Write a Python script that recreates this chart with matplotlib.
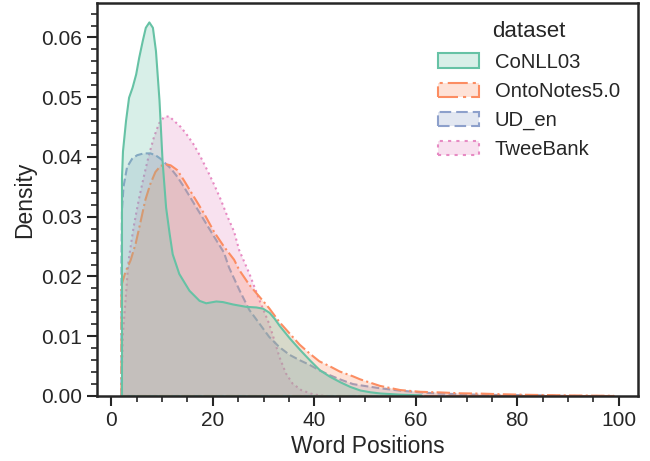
"""
KDE of word positions per dataset, redrawn from density values read off the figure.
"""
import matplotlib
matplotlib.use("Agg")
import matplotlib.pyplot as plt
from matplotlib.colors import to_rgba
from matplotlib.ticker import AutoMinorLocator


DATASETS = ["CoNLL03", "OntoNotes5.0", "UD_en", "TweeBank"]
COLORS = ["#66c2a5", "#fc8d62", "#8da0cb", "#e78ac3"]
LINESTYLES = ["-", "-.", "--", ":"]

conll_x = [2.0, 2.2, 2.8, 3.4, 4.1, 4.8, 5.4, 6.1, 6.7, 7.4, 8.1, 8.7, 9.4, 10.0,
           10.7, 11.4, 12.0, 13.3, 15.3, 17.3, 18.6, 20.6, 21.9, 23.9, 26.5, 28.5,
           29.8, 31.1, 32.1, 33.1, 35.1, 37.1, 39.1, 41.0, 43.0, 45.0, 47.0, 49.0,
           51.0, 53.0, 57.0, 61.0]
conll_y = [0.0365, 0.0410, 0.0461, 0.0500, 0.0517, 0.0539, 0.0567, 0.0595, 0.0617,
           0.0626, 0.0617, 0.0578, 0.0495, 0.0394, 0.0316, 0.0272, 0.0238, 0.0205,
           0.0177, 0.0160, 0.0156, 0.0159, 0.0158, 0.0154, 0.0150, 0.0149, 0.0147,
           0.0140, 0.0130, 0.0118, 0.0097, 0.0078, 0.0060, 0.0044, 0.0033, 0.0024,
           0.0016, 0.0010, 0.0007, 0.0005, 0.0003, 0.0002]

onto_x = [2.0, 2.8, 3.8, 4.8, 5.7, 6.7, 7.7, 8.7, 9.7, 10.7, 11.7, 13.0, 14.3, 16.3,
          18.3, 20.3, 22.2, 24.2, 25.2, 27.2, 29.2, 31.1, 33.1, 35.1, 37.1, 39.1,
          41.0, 43.0, 45.0, 47.6, 49.0, 52.9, 56.9, 60.9, 64.8, 68.8, 72.8, 76.7,
          82.0, 90.0, 99.0]
onto_y = [0.0185, 0.0208, 0.0227, 0.0255, 0.0289, 0.0328, 0.0355, 0.0375, 0.0385,
          0.0388, 0.0386, 0.0378, 0.0361, 0.0333, 0.0305, 0.0274, 0.0250, 0.0228,
          0.0211, 0.0186, 0.0166, 0.0147, 0.0124, 0.0105, 0.0086, 0.0071, 0.0058,
          0.0050, 0.0041, 0.0033, 0.0028, 0.0017, 0.0010, 0.0007, 0.0006, 0.00045,
          0.0004, 0.0003, 0.0002, 0.0001, 0.00003]

ud_x = [2.0, 2.1, 2.4, 3.1, 4.1, 5.1, 6.4, 7.7, 8.7, 9.7, 10.7, 11.7, 13.0, 14.3,
        16.3, 18.3, 20.3, 22.2, 23.2, 25.2, 27.2, 29.2, 31.1, 33.1, 35.1, 37.1,
        39.1, 41.0, 43.0, 45.0, 47.6, 49.0, 52.9, 56.9, 60.9, 64.8, 72.8, 85.0, 90.0]
ud_y = [0.0220, 0.0311, 0.0350, 0.0383, 0.0397, 0.0403, 0.0406, 0.0406, 0.0403,
        0.0397, 0.0389, 0.0381, 0.0367, 0.0350, 0.0322, 0.0294, 0.0266, 0.0240,
        0.0215, 0.0178, 0.0144, 0.0121, 0.0099, 0.0082, 0.0069, 0.0060, 0.0052,
        0.0043, 0.0035, 0.0028, 0.0020, 0.0018, 0.0013, 0.0009, 0.0006, 0.0004,
        0.0002, 0.0001, 0.0]

twee_x = [2.0, 2.3, 2.8, 3.4, 4.4, 5.4, 6.4, 7.4, 8.4, 9.4, 10.4, 11.4, 12.3, 13.7,
          15.0, 16.3, 17.6, 18.9, 20.3, 21.6, 22.9, 24.2, 25.2, 27.2, 29.2, 31.1,
          32.1, 33.1, 34.4, 35.7, 37.4, 39.7, 42.0]
twee_y = [0.0020, 0.0105, 0.0160, 0.0227, 0.0283, 0.0328, 0.0367, 0.0403, 0.0433,
          0.0456, 0.0467, 0.0468, 0.0461, 0.0450, 0.0436, 0.0420, 0.0400, 0.0378,
          0.0353, 0.0328, 0.0300, 0.0275, 0.0244, 0.0205, 0.0160, 0.0121, 0.0094,
          0.0066, 0.0038, 0.0021, 0.0010, 0.0003, 0.0]

CURVES = [(conll_x, conll_y), (onto_x, onto_y), (ud_x, ud_y), (twee_x, twee_y)]

TEXT_COLOR = "#262626"
plt.rcParams["font.family"] = ["Liberation Sans", "DejaVu Sans"]
plt.rcParams["text.color"] = TEXT_COLOR
plt.rcParams["axes.labelcolor"] = TEXT_COLOR
plt.rcParams["xtick.color"] = TEXT_COLOR
plt.rcParams["ytick.color"] = TEXT_COLOR


if __name__ == "__main__":
    figure, ax = plt.subplots(figsize=(6.5, 4.61), dpi=100)
    figure.subplots_adjust(left=0.149, right=0.982, top=0.993, bottom=0.141)

    # last dataset first, so the CoNLL03 outline ends up on top (like seaborn's layering)
    handles = {}
    for name, (xs, ys), color, style in reversed(list(zip(DATASETS, CURVES, COLORS, LINESTYLES))):
        handles[name] = ax.fill_between(xs, ys, facecolor=to_rgba(color, 0.25), edgecolor=color,
                                        linestyle=style, linewidth=1.5, label=name)

    ax.set_ylim(bottom=0)
    ax.xaxis.set_minor_locator(AutoMinorLocator())
    ax.yaxis.set_minor_locator(AutoMinorLocator())
    ax.tick_params(which="major", length=7, width=1.5, labelsize=15)
    ax.tick_params(which="minor", length=4, width=1.2)
    for spine in ax.spines.values():
        spine.set_linewidth(1.8)
        spine.set_color(TEXT_COLOR)

    ax.set_xlabel("Word Positions", fontsize=16.5)
    ax.set_ylabel("Density", fontsize=16.5)

    ax.legend([handles[name] for name in DATASETS], DATASETS, title="dataset",
              loc="upper right", frameon=False, fontsize=14.6, title_fontsize=16)

    figure.savefig("out.png", dpi=100)
    plt.close(figure)
